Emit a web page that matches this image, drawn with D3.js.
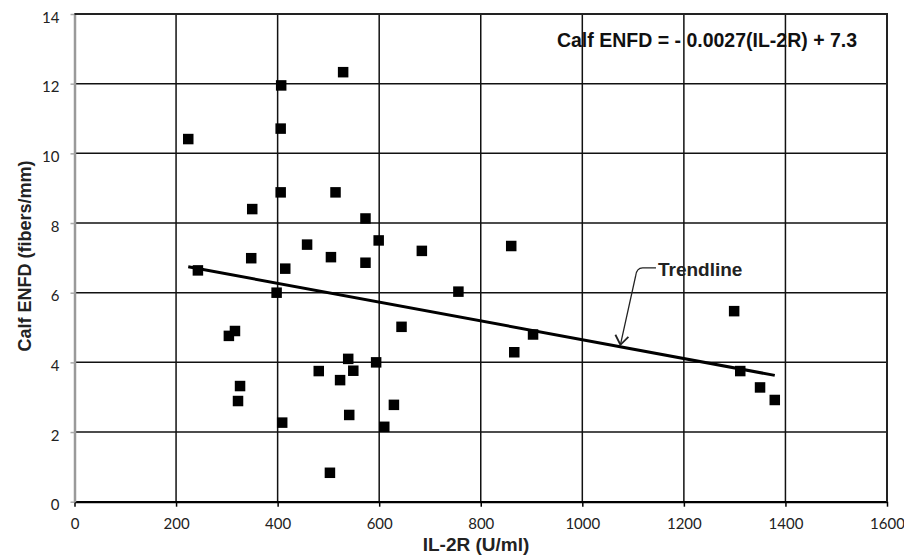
<!DOCTYPE html>
<html>
<head>
<meta charset="utf-8">
<script src="https://cdn.jsdelivr.net/npm/d3@7"></script>
<style>
  body { margin: 0; background: #fff; }
  svg { display: block; }
</style>
</head>
<body>
<svg width="904" height="556"></svg>
<script>
// IL-2R (U/ml) vs calf ENFD (fibers/mm)
const il2r = [224, 243, 350, 348, 304, 316, 326, 322, 407, 406, 406, 398, 409, 415,
  458, 481, 505, 503, 514, 529, 523, 539, 549, 541, 573, 573, 599, 594, 610, 629,
  644, 684, 756, 860, 866, 903, 1299, 1311, 1350, 1379];
const enfd = [10.41, 6.64, 8.40, 6.99, 4.76, 4.90, 3.32, 2.89, 11.95, 10.71, 8.88, 6.00, 2.27, 6.69,
  7.38, 3.75, 7.02, 0.83, 8.88, 12.33, 3.49, 4.10, 3.76, 2.49, 8.13, 6.86, 7.50, 4.00, 2.15, 2.78,
  5.02, 7.20, 6.03, 7.34, 4.29, 4.80, 5.47, 3.75, 3.28, 2.92];
const xTicks = [0, 200, 400, 600, 800, 1000, 1200, 1400, 1600];
const yTicks = [0, 2, 4, 6, 8, 10, 12, 14];

// trendline fit
const trendSlope = -0.0027;
const trendIntercept = 7.35;

const data = il2r.map((x, i) => ({ x: x, y: enfd[i] }));

const margin = { top: 14, right: 17, bottom: 54.3, left: 74.5 };
const width = 904, height = 556;

const svg = d3.select("svg");

const x = d3.scaleLinear().domain([0, 1600]).range([margin.left, width - margin.right]);
const y = d3.scaleLinear().domain([0, 14]).range([height - margin.bottom, margin.top]);

// grid
svg.append("g")
  .selectAll("line")
  .data(yTicks.filter(d => d > 0))
  .join("line")
  .attr("x1", x(0)).attr("x2", x(1600))
  .attr("y1", d => y(d)).attr("y2", d => y(d))
  .attr("stroke", "#111").attr("stroke-width", 1.5);

svg.append("g")
  .selectAll("line")
  .data(xTicks.filter(d => d > 0))
  .join("line")
  .attr("y1", y(0)).attr("y2", y(14))
  .attr("x1", d => x(d)).attr("x2", d => x(d))
  .attr("stroke", "#111").attr("stroke-width", 1.5);

// x axis
const xAxis = svg.append("g")
  .attr("transform", `translate(0,${y(0)})`)
  .call(d3.axisBottom(x).tickValues(xTicks).tickFormat(d3.format("d")).tickSize(5).tickSizeOuter(0));
xAxis.select(".domain").attr("stroke", "#000").attr("stroke-width", 2.2);
xAxis.selectAll(".tick line").attr("stroke", "#000").attr("stroke-width", 1.5);
xAxis.selectAll("text")
  .attr("y", 27).attr("dy", 0)
  .attr("font-family", "Lato, 'Open Sans', sans-serif")
  .attr("font-size", 15).attr("fill", "#222");

// y axis
const yAxis = svg.append("g")
  .attr("transform", `translate(${x(0)},0)`)
  .call(d3.axisLeft(y).tickValues(yTicks).tickFormat(d3.format("d")).tickSize(4).tickSizeOuter(0));
yAxis.select(".domain").attr("stroke", "#9a9a9a").attr("stroke-width", 2.5);
yAxis.selectAll(".tick line").attr("stroke", "#aaa").attr("stroke-width", 1.5);
yAxis.selectAll("text")
  .attr("x", -15).attr("dy", "0.55em")
  .attr("font-family", "Lato, 'Open Sans', sans-serif")
  .attr("font-size", 15).attr("fill", "#222");

// frame top/right
svg.append("path")
  .attr("d", `M${x(0)},${y(14)}H${x(1600)}V${y(0)}`)
  .attr("fill", "none").attr("stroke", "#222").attr("stroke-width", 2);

// trendline
const xMin = d3.min(il2r), xMax = d3.max(il2r);
const trend = v => trendSlope * v + trendIntercept;
svg.append("line")
  .attr("x1", x(xMin)).attr("y1", y(trend(xMin)))
  .attr("x2", x(xMax)).attr("y2", y(trend(xMax)))
  .attr("stroke", "#000").attr("stroke-width", 3);

// points
const s = 10.5;
svg.append("g")
  .selectAll("rect")
  .data(data)
  .join("rect")
  .attr("x", d => x(d.x) - s / 2)
  .attr("y", d => y(d.y) - s / 2)
  .attr("width", s).attr("height", s)
  .attr("fill", "#000");

// trendline callout
const tipX = 1075, elbowX = 1107, textX = 1149, labelY = 6.71;
const tip = [x(tipX), y(trend(tipX)) - 2];
const elbow = [x(elbowX), y(labelY)];
svg.append("path")
  .attr("d", `M${x(textX) - 2},${elbow[1]}H${elbow[0] + 6}Q${elbow[0]},${elbow[1]} ${elbow[0] - 1},${elbow[1] + 8}L${tip[0]},${tip[1]}`)
  .attr("fill", "none").attr("stroke", "#222").attr("stroke-width", 1.3);
svg.append("path")
  .attr("d", `M${tip[0] - 5},${tip[1] - 10}L${tip[0]},${tip[1]}L${tip[0] + 8},${tip[1] - 8}`)
  .attr("fill", "none").attr("stroke", "#222").attr("stroke-width", 1.8);
svg.append("text")
  .attr("x", x(textX)).attr("y", elbow[1] + 8)
  .attr("font-family", "'Liberation Sans', Arial, sans-serif")
  .attr("font-weight", "bold").attr("font-size", 19)
  .attr("fill", "#222")
  .text("Trendline");

// equation
svg.append("text")
  .attr("x", x(950)).attr("y", 47)
  .attr("font-family", "'Liberation Sans', Arial, sans-serif")
  .attr("font-weight", "bold").attr("font-size", 19.5)
  .attr("fill", "#111")
  .text("Calf ENFD = - 0.0027(IL-2R) + 7.3");

// axis titles
svg.append("text")
  .attr("x", 476).attr("y", 551)
  .attr("text-anchor", "middle")
  .attr("font-family", "'Liberation Sans', Arial, sans-serif")
  .attr("font-weight", "bold").attr("font-size", 19)
  .attr("fill", "#222")
  .text("IL-2R (U/ml)");

svg.append("text")
  .attr("transform", "translate(31,256) rotate(-90)")
  .attr("text-anchor", "middle")
  .attr("font-family", "'Liberation Sans', Arial, sans-serif")
  .attr("font-weight", "bold").attr("font-size", 18)
  .attr("fill", "#222")
  .text("Calf ENFD (fibers/mm)");
</script>
</body>
</html>
